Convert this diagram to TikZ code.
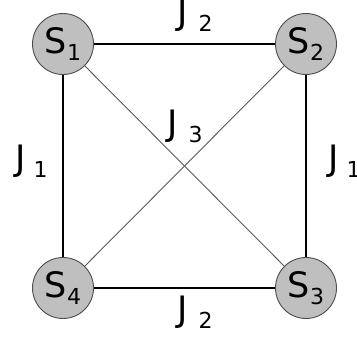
\documentclass[tikz,border=0pt]{standalone}
\usepackage{fontspec}
\setmainfont{DejaVu Sans}
\newcommand{\mysub}[1]{\raisebox{-7pt}{\fontsize{22}{22}\selectfont #1}}
\begin{document}
\begin{tikzpicture}[x=1pt,y=-1pt,
  spin/.style={circle,draw=black!70,line width=0.9pt,fill=black!25,minimum size=61pt,inner sep=0pt,font=\fontsize{35}{35}\selectfont},
  side/.style={draw=black,line width=1.2pt},
  diag/.style={draw=black!65,line width=0.9pt},
  coup/.style={anchor=base west,inner sep=0pt,font=\fontsize{35}{35}\selectfont}]
\useasboundingbox (0,0) rectangle (357,345);
\node[spin] (s1) at (63,44) {S\mysub{1}};
\node[spin] (s2) at (306,44) {S\mysub{2}};
\node[spin] (s3) at (306,288) {S\mysub{3}};
\node[spin] (s4) at (63,288) {S\mysub{4}};
\draw[side] (s1) -- (s2);
\draw[side] (s2) -- (s3);
\draw[side] (s3) -- (s4);
\draw[side] (s4) -- (s1);
\draw[diag] (s1) -- (s3);
\draw[diag] (s2) -- (s4);
\node[coup] (j2t) at (177,25) {J\hspace{11pt}\mysub{2}};
\node[coup] (j3) at (167,136) {J\hspace{11pt}\mysub{3}};
\node[coup] (j1l) at (15,171) {J\hspace{8pt}\mysub{1}};
\node[coup] (j1r) at (328,171) {J\hspace{8pt}\mysub{1}};
\node[coup] (j2b) at (177,322) {J\hspace{11pt}\mysub{2}};
\end{tikzpicture}
\end{document}
